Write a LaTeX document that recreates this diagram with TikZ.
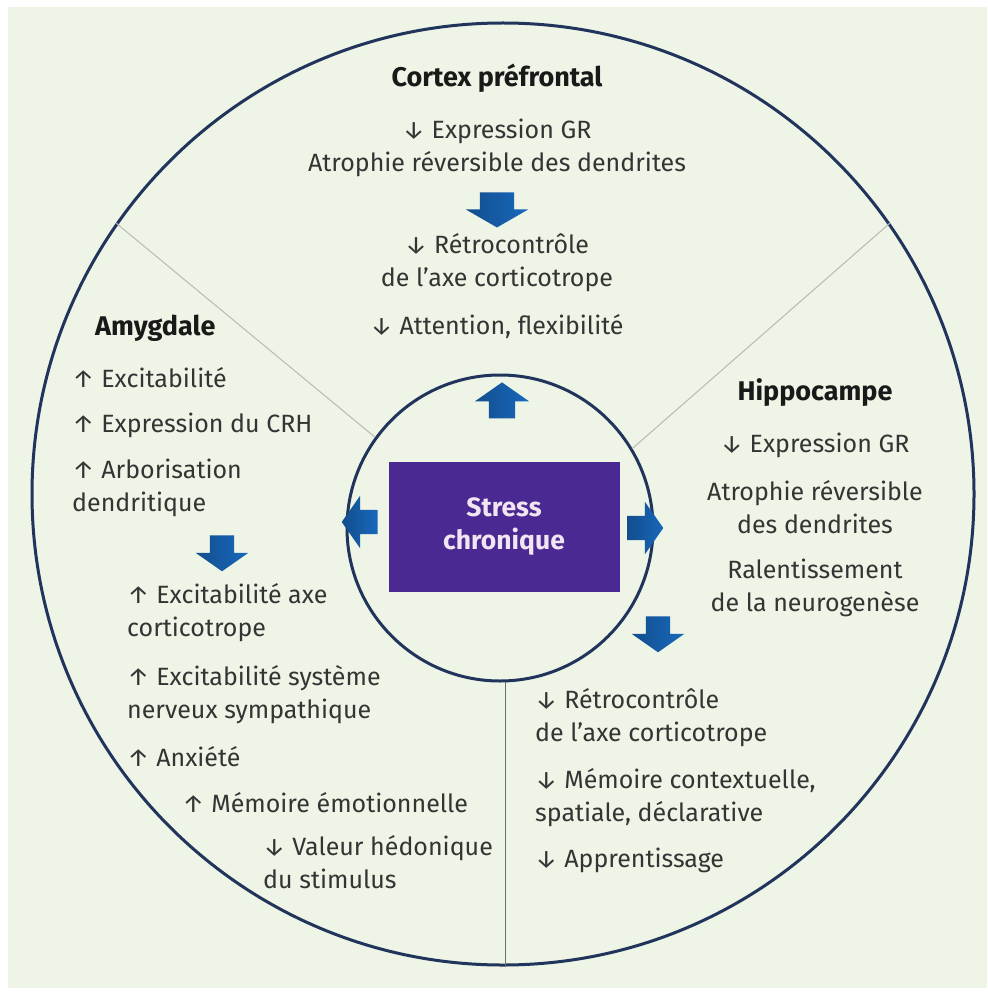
\documentclass[tikz,border=0pt]{standalone}
\usepackage{fontspec}
\setmainfont{Fira Sans}
\usetikzlibrary{positioning, shapes.arrows}

\definecolor{bgcolor}{RGB}{238,244,230}
\definecolor{ringcolor}{RGB}{32,52,92}
\definecolor{stresscolor}{RGB}{74,42,146}
\definecolor{arrowblue}{RGB}{24,104,188}
\definecolor{textgrey}{RGB}{52,52,52}

\begin{document}
\begin{tikzpicture}[
    x=1pt, y=-1pt,
    % Styles
    every node/.style={inner sep=0pt, text=textgrey, font=\fontsize{25}{33}\selectfont},
    heading/.style={font=\fontsize{27}{33}\selectfont\bfseries, text=black!90},
    item/.style={align=left, anchor=west},
    centred/.style={align=center},
    ring/.style={circle, draw=ringcolor, line width=3pt},
    divider/.style={draw=gray!55, line width=1pt},
    stressbox/.style={fill=stresscolor, minimum width=231, minimum height=130, align=center, text=white!90!violet, font=\fontsize{26.5}{33}\selectfont\bfseries},
    blockarrow/.style={single arrow, draw=none, left color=arrowblue!75!black, right color=arrowblue, inner xsep=0pt, inner ysep=12pt, minimum height=36, single arrow head extend=14, single arrow tip angle=110},
]

% Page and background
\useasboundingbox (0,0) rectangle (987,995);
\fill[white] (0,0) rectangle (987,995);
\fill[bgcolor] (8,7) rectangle (987,988);

% Circles
\node[ring, minimum size=942] (outer) at (503,494) {};
\node[ring, minimum size=306] (inner) at (500,528) {};

% Dividers between the three regions
\draw[divider] (inner.144) -- (outer.145);
\draw[divider] (inner.31) -- (outer.35);
\draw[divider, draw=gray!80!ringcolor] (inner.272) -- (inner.272 |- outer.south);

% Centre
\node[stressbox] (stress) at (504,527) {Stress\\chronique};
\node[blockarrow, rotate=90, inner ysep=13pt] (arrowup) at (502,405) {};
\node[blockarrow, rotate=180] (arrowleft) at (364,522) {};
\node[blockarrow] (arrowright) at (641,528) {};

% Cortex prefrontal
\node[heading] (cortex) at (497,78) {Cortex préfrontal};
\node[centred] (cxgr) at (497,148) {↓ Expression GR\\Atrophie réversible des dendrites};
\node[blockarrow, rotate=-90, inner ysep=17pt, minimum height=35, single arrow tip angle=120] (cxarrow) at (497,205) {};
\node[centred] (cxretro) at (497,263) {↓ Rétrocontrôle\\de l’axe corticotrope};
\node (cxatt) at (497,327) {↓ Attention, flexibilité};

% Amygdale
\node[heading, anchor=west] (amy) at (95,328) {Amygdale};
\node[item] (amyexc) at (72,378) {↑ Excitabilité};
\node[item] (amycrh) at (72,425) {↑ Expression du CRH};
\node[item] (amyarb) at (72,488) {↑ Arborisation\\dendritique};
\node[blockarrow, rotate=-90] (amyarrow) at (222,549) {};
\node[item] (amyaxe) at (127,613) {↑ Excitabilité axe\\corticotrope};
\node[item] (amysns) at (127,695) {↑ Excitabilité système\\nerveux sympathique};
\node[item] (amyanx) at (127,757) {↑ Anxiété};
\node[item] (amymem) at (182,803) {↑ Mémoire émotionnelle};
\node[item] (amyval) at (263,862) {↓ Valeur hédonique\\du stimulus};

% Hippocampe
\node[heading] (hip) at (815,393) {Hippocampe};
\node (hipgr) at (815,445) {↓ Expression GR};
\node[centred] (hipatr) at (815,507) {Atrophie réversible\\des dendrites};
\node[centred] (hipral) at (815,588) {Ralentissement\\de la neurogenèse};
\node[blockarrow, rotate=-90] (hiparrow) at (658,630) {};
\node[item] (hipretro) at (535,718) {↓ Rétrocontrôle\\de l’axe corticotrope};
\node[item] (hipmem) at (535,798) {↓ Mémoire contextuelle,\\spatiale, déclarative};
\node[item] (hipapp) at (535,860) {↓ Apprentissage};

\end{tikzpicture}
\end{document}
